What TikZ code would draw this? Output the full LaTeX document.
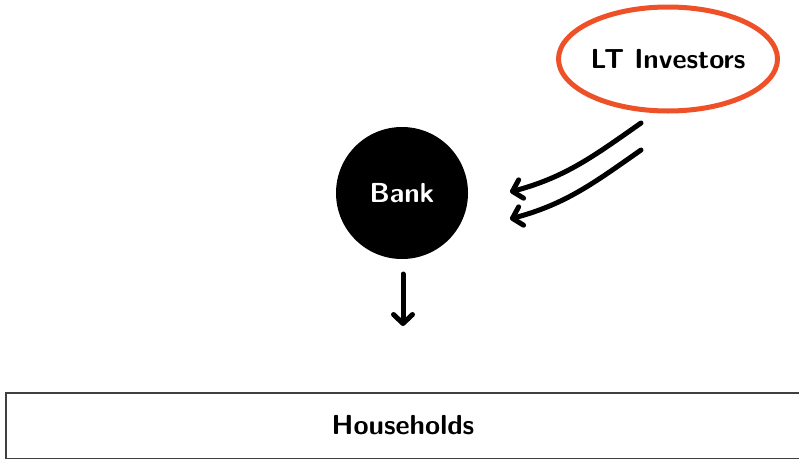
\documentclass[tikz,border=0pt]{standalone}
\usetikzlibrary{arrows.meta,shapes.geometric}
\definecolor{ltorange}{HTML}{EE5128}
\begin{document}
\begin{tikzpicture}[x=1pt,y=-1pt,
  lbl/.style={font=\sffamily\bfseries\fontsize{27.5}{32}\selectfont},
  flow/.style={line width=5pt,-{Straight Barb[length=9pt,width=19pt,line cap=round,line join=round]},line cap=round}]
  \useasboundingbox (0,0) rectangle (799,458);
  % long-term investors
  \node[lbl,draw=ltorange,line width=5pt,ellipse,minimum width=218pt,minimum height=104pt,inner sep=0pt] (lt) at (668,59) {LT Investors};
  % bank
  \node[lbl,fill=black,text=white,circle,minimum size=132pt,inner sep=0pt] (bank) at (402,193) {Bank};
  % households
  \node[lbl,draw=black!75,line width=1.5pt,minimum width=810pt,minimum height=66pt,inner sep=0pt,anchor=north west] (hh) at (5,392) {};
  \node[lbl] (hhtext) at (403,425) {Households};
  % flows
  \coordinate (a1s) at (641,123);
  \coordinate (a1e) at (510,192);
  \coordinate (a2s) at (641,150);
  \coordinate (a2e) at (510,219);
  \draw[flow] (a1s) to[out=215,in=15] (a1e);
  \draw[flow] (a2s) to[out=215,in=15] (a2e);
  \coordinate (ds) at (403,274);
  \coordinate (de) at (403,326);
  \draw[flow] (ds) -- (de);
\end{tikzpicture}
\end{document}
